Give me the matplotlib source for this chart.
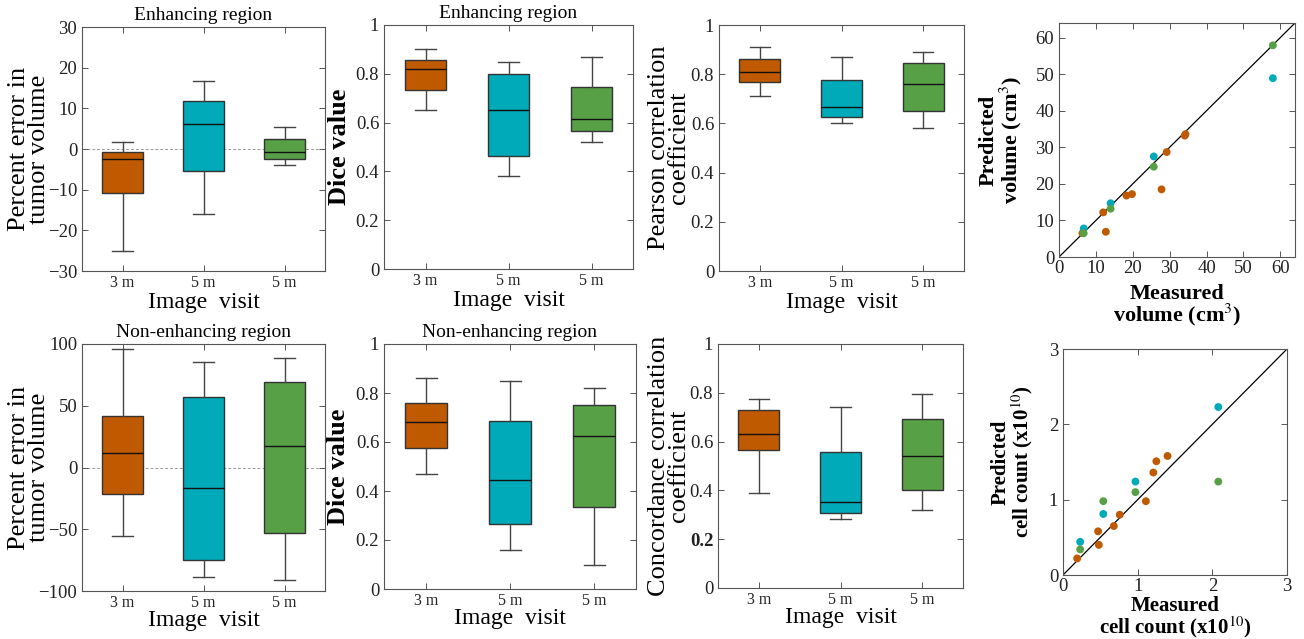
import matplotlib.pyplot as plt

plt.rcParams['font.family'] = ['Liberation Serif', 'DejaVu Serif']
plt.rcParams['mathtext.fontset'] = 'stix'

visits = ['3 m', '5 m', '5 m']
colors = ['#c05a00', '#00aab8', '#58a046']

# box stats per group: (whislo, q1, med, q3, whishi)
err_enh = [(-25, -10.7, -2.5, -0.8, 1.8), (-16, -5.3, 6.1, 11.8, 16.8), (-4, -2.5, -0.7, 2.5, 5.4)]
dice_enh = [(0.65, 0.735, 0.82, 0.855, 0.90), (0.38, 0.465, 0.65, 0.80, 0.85), (0.52, 0.565, 0.615, 0.745, 0.87)]
pearson = [(0.71, 0.77, 0.81, 0.862, 0.91), (0.60, 0.625, 0.665, 0.775, 0.87), (0.58, 0.65, 0.76, 0.845, 0.89)]
err_non = [(-55.7, -21.6, 11.9, 41.9, 95.7), (-88.6, -74.6, -16.2, 57.3, 85.4), (-90.8, -52.7, 17.8, 69.5, 88.4)]
dice_non = [(0.47, 0.574, 0.68, 0.759, 0.862), (0.159, 0.267, 0.445, 0.687, 0.85), (0.10, 0.335, 0.625, 0.749, 0.82)]
ccc = [(0.39, 0.567, 0.633, 0.73, 0.774), (0.282, 0.307, 0.352, 0.558, 0.743), (0.32, 0.40, 0.539, 0.693, 0.794)]

# measured vs predicted volume (cm^3)
vol_meas_3m = [6.35, 12.0, 12.7, 18.3, 19.8, 27.8, 29.2, 34.1, 34.3]
vol_pred_3m = [6.5, 12.2, 6.9, 16.8, 17.2, 18.5, 28.7, 33.2, 33.6]
vol_meas_5a = [6.7, 14.0, 25.7, 58.0]
vol_pred_5a = [7.8, 14.7, 27.5, 48.9]
vol_meas_5b = [6.7, 14.0, 25.7, 58.0]
vol_pred_5b = [6.5, 13.2, 24.7, 57.9]

# measured vs predicted cell count (x1e10)
cell_meas_3m = [0.19, 0.47, 0.48, 0.68, 0.76, 1.11, 1.21, 1.25, 1.40]
cell_pred_3m = [0.22, 0.58, 0.40, 0.65, 0.80, 0.98, 1.36, 1.51, 1.58]
cell_meas_5a = [0.23, 0.54, 0.97, 2.08]
cell_pred_5a = [0.44, 0.81, 1.24, 2.23]
cell_meas_5b = [0.23, 0.54, 0.97, 2.08]
cell_pred_5b = [0.34, 0.98, 1.10, 1.24]

W, H = 1304, 639
fig = plt.figure(figsize=(W / 100, H / 100), dpi=100)


def px_axes(x0, y0, x1, y1):
    return fig.add_axes([x0 / W, (H - y1) / H, (x1 - x0) / W, (y1 - y0) / H])


def style(ax):
    for s in ax.spines.values():
        s.set_color('#555555')
        s.set_linewidth(0.8)
    ax.tick_params(direction='in', top=True, right=True, length=4, width=0.7,
                   color='#555555', labelsize=13.5, labelcolor='#222222')


def box_panel(ax, stats, ylim, yticks, ylabel, ylab_x, xlab_y, title=None, zero=False, ylabel_bold=False):
    bx = []
    for s in stats:
        bx.append(dict(whislo=s[0], q1=s[1], med=s[2], q3=s[3], whishi=s[4], fliers=[]))
    if zero:
        ax.axhline(0, color='#999999', lw=0.7, ls='--', dashes=(3, 2), zorder=0)
    res = ax.bxp(bx, positions=[1, 2, 3], widths=0.5, patch_artist=True, capwidths=0.25,
                 boxprops=dict(edgecolor='#333333', linewidth=1.0),
                 medianprops=dict(color='#111111', linewidth=1.0),
                 whiskerprops=dict(color='#444444', linewidth=1.0),
                 capprops=dict(color='#444444', linewidth=1.0))
    for patch, c in zip(res['boxes'], colors):
        patch.set_facecolor(c)
    ax.set_xlim(0.5, 3.5)
    ax.set_ylim(*ylim)
    ax.set_yticks(yticks)
    ax.set_xticks([1, 2, 3])
    ax.set_xticklabels(visits)
    style(ax)
    ax.tick_params(axis='x', labelsize=11.5, pad=3)
    ax.set_xlabel('Image  visit', fontsize=17)
    ax.xaxis.set_label_coords(0.5, xlab_y)
    ax.set_ylabel(ylabel, fontsize=19, fontweight='bold' if ylabel_bold else 'normal',
                  linespacing=0.9)
    ax.yaxis.set_label_coords(ylab_x, 0.5)
    if title:
        ax.set_title(title, fontsize=14, pad=5)


unit_ticks = [0, 0.2, 0.4, 0.6, 0.8, 1]
unit_labels = ['0', '0.2', '0.4', '0.6', '0.8', '1']

ax1 = px_axes(82, 27, 325, 271)
box_panel(ax1, err_enh, (-30, 30), [-30, -20, -10, 0, 10, 20, 30],
          'Percent error in\ntumor volume', -0.13, -0.085, 'Enhancing region', zero=True)

ax2 = px_axes(384, 25, 633, 269)
box_panel(ax2, dice_enh, (0, 1), unit_ticks, 'Dice value', -0.133, -0.085, 'Enhancing region',
          ylabel_bold=True)
ax2.set_yticklabels(unit_labels)

ax3 = px_axes(719, 25, 964, 271)
box_panel(ax3, pearson, (0, 1), unit_ticks, 'Pearson correlation\ncoefficient', -0.118, -0.085)
ax3.set_yticklabels(unit_labels)

ax5 = px_axes(82, 344, 325, 591)
box_panel(ax5, err_non, (-100, 100), [-100, -50, 0, 50, 100],
          'Percent error in\ntumor volume', -0.13, -0.078, 'Non-enhancing region', zero=True)

ax6 = px_axes(384, 344, 636, 589)
box_panel(ax6, dice_non, (0, 1), unit_ticks, 'Dice value', -0.135, -0.078, 'Non-enhancing region',
          ylabel_bold=True)
ax6.set_yticklabels(unit_labels)

ax7 = px_axes(718, 344, 963, 588)
box_panel(ax7, ccc, (0, 1), unit_ticks, 'Concordance correlation\ncoefficient', -0.114, -0.078)
ax7.set_yticklabels(unit_labels)
ax7.get_yticklabels()[1].set_fontweight('bold')


def scatter_panel(ax, groups, lim, ticks, xlabel, ylabel, ylab_x, xlab_y, size):
    ax.plot([0, lim], [0, lim], color='black', lw=0.9, zorder=1)
    for (mx, my), c in zip(groups, colors):
        ax.scatter(mx, my, s=32, color=c, edgecolors='none', zorder=3)
    ax.set_xlim(0, lim)
    ax.set_ylim(0, lim)
    ax.set_xticks(ticks)
    ax.set_yticks(ticks)
    style(ax)
    ax.tick_params(axis='x', pad=2)
    ax.set_xlabel(xlabel, fontsize=size, fontweight='bold', linespacing=0.9)
    ax.xaxis.set_label_coords(0.5, xlab_y)
    ax.set_ylabel(ylabel, fontsize=size, fontweight='bold', linespacing=0.95)
    ax.yaxis.set_label_coords(ylab_x, 0.5)


ax4 = px_axes(1059, 23, 1295, 257)
scatter_panel(ax4, [(vol_meas_3m, vol_pred_3m), (vol_meas_5a, vol_pred_5a), (vol_meas_5b, vol_pred_5b)],
              64, [0, 10, 20, 30, 40, 50, 60],
              'Measured\nvolume (cm$^3$)', 'Predicted\nvolume (cm$^3$)', -0.15, -0.115, 16)

ax8 = px_axes(1063, 349, 1287, 575)
scatter_panel(ax8, [(cell_meas_3m, cell_pred_3m), (cell_meas_5a, cell_pred_5a), (cell_meas_5b, cell_pred_5b)],
              3, [0, 1, 2, 3],
              'Measured\ncell count (x10$^{10}$)', 'Predicted\ncell count (x10$^{10}$)', -0.125, -0.095, 15)

fig.savefig('out.png', dpi=100)
